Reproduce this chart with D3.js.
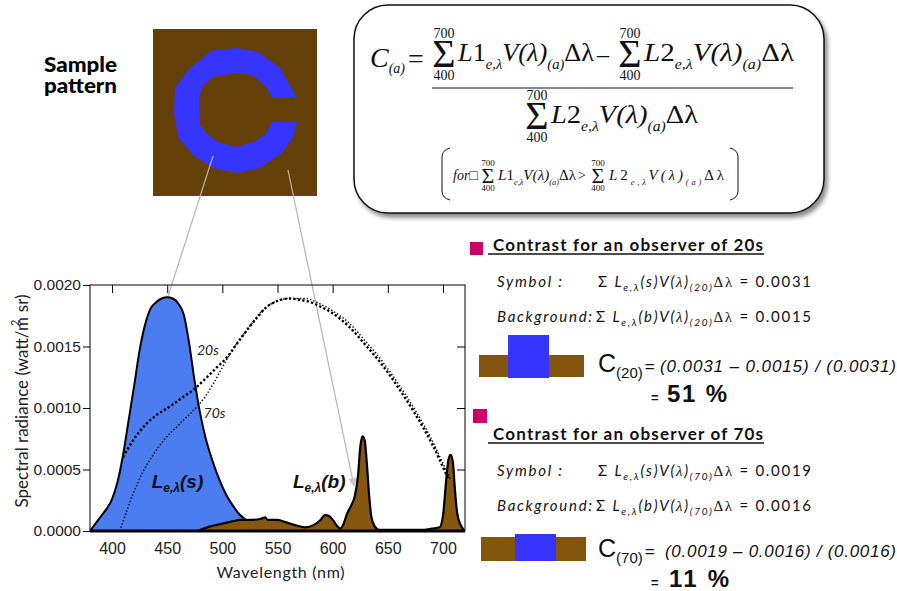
<!DOCTYPE html>
<html>
<head>
<meta charset="utf-8">
<script src="https://cdn.jsdelivr.net/npm/d3@7"></script>
<style>
body { margin: 0; background: #fff; }
svg { display: block; }
</style>
</head>
<body>
<div id="chart"></div>
<script>
// spectral radiance of the symbol (blue) and the background (brown)
var symbolWl = [380,385,390,395,400,405,410,415,420,425,430,435,440,445,450,455,460,465,470,475,480,485,490,495,500,505,510,515,520,525,530,535,540,545,550];
var symbolRad = [0,0.00006,0.00012,0.00018,0.00026,0.0004,0.00062,0.0009,0.00118,0.00147,0.00168,0.00181,0.00186,0.00189,0.0019,0.00189,0.00185,0.00176,0.00152,0.00121,0.00095,0.00075,0.0006,0.00047,0.00036,0.00027,0.0002,0.00014,0.0001,0.00007,0.00005,0.00003,0.00002,0.00001,0];

var backgroundWl = [478,483,490,495,500,505,510,516,525,535,539,541,550,558,565,575,583,589,593,597,601,604,607,610,613,617,620,623,625,627,629,631,633,635,638,642,683,690,697,700,703,705,707,709,711,713,716,718,720];
var backgroundRad = [0,0.00002,0.00004,0.00005,0.00006,0.00007,0.00008,0.00009,0.00009,0.0001,0.00011,0.00009,0.00009,0.00007,0.00005,0.00003,0.00005,0.00009,0.00013,0.00012,0.00008,0.00004,0.00002,0.00006,0.00014,0.00021,0.00028,0.00045,0.00068,0.00077,0.00074,0.00055,0.0003,0.00012,0.00004,0.00001,0.00001,0.00002,0.00003,0.00012,0.00042,0.00058,0.00062,0.00056,0.00032,0.00014,0.00005,0.00002,0];

// V(lambda) curves (scaled) for observers in their 20s and 70s
var v20Wl = [410,420,431,440,452,463,474,486,495,504,513,522,531,540,550,560,570,580,590,600,615,630,645,660,675,690,700,705];
var v20 = [0.0006,0.00075,0.00087,0.00094,0.00101,0.00108,0.00115,0.00125,0.00133,0.00141,0.00152,0.00163,0.00173,0.00182,0.00187,0.00189,0.00188,0.00186,0.00182,0.00177,0.00166,0.00151,0.00135,0.00116,0.00095,0.00071,0.00052,0.00042];
var v70Wl = [407,412,419,428,438,448,459,468,477,485,492,500,507,515,522,534,545,560,575,590,600,615,630,645,660,675,690,700,707];
var v70 = [0,0.00013,0.0003,0.00048,0.00063,0.00075,0.00085,0.00093,0.00101,0.0011,0.0012,0.00133,0.00144,0.00155,0.00163,0.00177,0.00185,0.00189,0.00189,0.00184,0.00179,0.00169,0.00154,0.00138,0.00119,0.00098,0.00074,0.00055,0.00042];

var xTicks = [400,450,500,550,600,650,700];
var yTicks = [0,0.0005,0.001,0.0015,0.002];

// contrast panel values
var ages = ["20", "70"];
var symbolSums = ["0.0031", "0.0019"];
var backgroundSums = ["0.0015", "0.0016"];
var results = ["51 %", "11 %"];

var svgWidth = 897, svgHeight = 591;
var margin = {top: 285, left: 90};
var width = 375, height = 246;

var svg = d3.select("#chart").append("svg")
  .attr("width", svgWidth)
  .attr("height", svgHeight);

var defs = svg.append("defs");
defs.append("marker")
  .attr("id", "arrow")
  .attr("viewBox", "0 0 10 10")
  .attr("refX", 9).attr("refY", 5)
  .attr("markerWidth", 9).attr("markerHeight", 9)
  .attr("markerUnits", "userSpaceOnUse")
  .attr("orient", "auto")
  .append("path").attr("d", "M0,0 L10,5 L0,10 z").attr("fill", "#c8c8c8");
var shadow = defs.append("filter").attr("id", "shadow")
  .attr("x", "-5%").attr("y", "-5%").attr("width", "115%").attr("height", "120%");
shadow.append("feDropShadow").attr("dx", 3).attr("dy", 4).attr("stdDeviation", 2)
  .attr("flood-color", "#000").attr("flood-opacity", 0.45);
defs.append("clipPath").attr("id", "plotclip")
  .append("rect").attr("width", width).attr("height", height);

var serif = "'Liberation Serif', 'Times New Roman', serif";
var sans = "'Liberation Sans', Arial, sans-serif";
var calibri = "Lato, 'Open Sans', sans-serif";

// ---------- sample pattern ----------
svg.append("text").attr("x", 44).attr("y", 72)
  .style("font-family", calibri).style("font-weight", "900").style("font-size", "21px")
  .attr("textLength", 73).attr("lengthAdjust", "spacingAndGlyphs").text("Sample");
svg.append("text").attr("x", 44).attr("y", 93)
  .style("font-family", calibri).style("font-weight", "900").style("font-size", "21px")
  .attr("textLength", 73).attr("lengthAdjust", "spacingAndGlyphs").text("pattern");

svg.append("rect").attr("x", 153).attr("y", 29).attr("width", 164).attr("height", 167)
  .attr("fill", "#664009");
// octagonal "C" outline (outer edge, then inner edge back)
var cShape = [[297,98],[280,68],[258,52],[237,48],[213,50],[190,68],[175,88],[174,113],[178,137],[193,155],[213,168],[237,173],[260,168],[282,153],[293,137],[297,122],
  [272,122],[265,135],[253,142],[237,147],[220,143],[208,135],[200,125],[199,100],[202,87],[213,77],[237,73],[253,75],[267,88],[272,98]];
svg.append("path").datum(cShape).attr("d", d3.line().curve(d3.curveLinearClosed))
  .attr("fill", "#3535ff");

// ---------- formula box ----------
svg.append("rect").attr("x", 354).attr("y", 5).attr("width", 470).attr("height", 208)
  .attr("rx", 34).attr("fill", "#fff").attr("stroke", "#111").attr("stroke-width", 1.5)
  .attr("filter", "url(#shadow)");

var fg = svg.append("g").style("font-family", serif).attr("fill", "#111");

function addSum(cx, base, size, limSize, gap) {
  fg.append("text").attr("x", cx).attr("y", base).attr("text-anchor", "middle")
    .style("font-size", size + "px").text("Σ");
  fg.append("text").attr("x", cx).attr("y", base - size * 0.66 - gap).attr("text-anchor", "middle")
    .style("font-size", limSize + "px").text("700");
  fg.append("text").attr("x", cx).attr("y", base + limSize * 0.72 + gap).attr("text-anchor", "middle")
    .style("font-size", limSize + "px").text("400");
}

function addTerm(x, base, size, num, len, adjust) {
  var t = fg.append("text").attr("x", x).attr("y", base)
    .style("font-size", size + "px").style("font-style", "italic")
    .attr("textLength", len).attr("lengthAdjust", adjust);
  var sub = size * 0.55, dy = size * 0.3;
  t.append("tspan").text("L");
  t.append("tspan").style("font-style", "normal").text(num);
  t.append("tspan").attr("dy", dy).style("font-size", sub + "px").text("e,λ");
  t.append("tspan").attr("dy", -dy).text("V(λ)");
  t.append("tspan").attr("dy", dy).style("font-size", sub + "px").text("(a)");
  t.append("tspan").attr("dy", -dy).style("font-style", "normal").text("Δλ");
}

// C(a) =
var ca = fg.append("text").attr("x", 370).attr("y", 67).style("font-size", "28px").style("font-style", "italic");
ca.append("tspan").text("C");
ca.append("tspan").attr("dy", 6).style("font-size", "14px").text("(a)");
fg.append("text").attr("x", 408).attr("y", 68).style("font-size", "28px").text("=");

// numerator
addSum(444, 67, 40, 14, 3);
addTerm(458, 61, 25, "1", 136, "spacingAndGlyphs");
fg.append("text").attr("x", 597).attr("y", 62).style("font-size", "24px").text("–");
addSum(630, 67, 40, 14, 3);
addTerm(644, 61, 25, "2", 150, "spacingAndGlyphs");
fg.append("line").attr("x1", 432).attr("x2", 793).attr("y1", 88).attr("y2", 88)
  .attr("stroke", "#111").attr("stroke-width", 1);

// denominator
addSum(537, 129, 40, 14, 3);
addTerm(551, 123, 25, "2", 147, "spacingAndGlyphs");

// condition in brackets
fg.append("path").attr("d", "M450,148 Q442,150 442,157 L442,191 Q442,198 450,200")
  .attr("fill", "none").attr("stroke", "#111").attr("stroke-width", 1);
fg.append("path").attr("d", "M730,148 Q738,150 738,157 L738,191 Q738,198 730,200")
  .attr("fill", "none").attr("stroke", "#111").attr("stroke-width", 1);
fg.append("text").attr("x", 453).attr("y", 180).style("font-size", "14px").style("font-style", "italic").text("for□");
addSum(488, 183, 22, 9, 2);
addTerm(498, 180, 15, "1", 78, "spacingAndGlyphs");
fg.append("text").attr("x", 578).attr("y", 180).style("font-size", "14px").text(">");
addSum(598, 183, 22, 9, 2);
addTerm(609, 180, 15, "2", 115, "spacing");

// ---------- connector arrows ----------
svg.append("line").attr("x1", 213).attr("y1", 156).attr("x2", 164).attr("y2", 309)
  .attr("stroke", "#b4b4b4").attr("stroke-width", 1.2).attr("marker-end", "url(#arrow)");
svg.append("line").attr("x1", 288).attr("y1", 170).attr("x2", 354).attr("y2", 486)
  .attr("stroke", "#b4b4b4").attr("stroke-width", 1.2).attr("marker-end", "url(#arrow)");

// ---------- spectral chart ----------
var chartGroup = svg.append("g")
  .attr("transform", "translate(" + margin.left + "," + margin.top + ")");

var xScale = d3.scaleLinear().domain([380, 720]).range([0, width]);
var yScale = d3.scaleLinear().domain([0, 0.002]).range([height, 0]);

var area = d3.area()
  .x(d => xScale(d[0])).y0(yScale(0)).y1(d => yScale(d[1]))
  .curve(d3.curveMonotoneX);
var line = d3.line()
  .x(d => xScale(d[0])).y(d => yScale(d[1]))
  .curve(d3.curveMonotoneX);

var plot = chartGroup.append("g").attr("clip-path", "url(#plotclip)");

var symbolData = d3.zip(symbolWl, symbolRad);
var backgroundData = d3.zip(backgroundWl, backgroundRad);

plot.append("path").datum(symbolData).attr("d", area).attr("fill", "#4b7cf0");
plot.append("path").datum(symbolData).attr("d", line)
  .attr("fill", "none").attr("stroke", "#000").attr("stroke-width", 2);
plot.append("path").datum(backgroundData).attr("d", area).attr("fill", "#86570f");
plot.append("path").datum(backgroundData).attr("d", line)
  .attr("fill", "none").attr("stroke", "#000").attr("stroke-width", 2.2);

plot.append("path").datum(d3.zip(v20Wl, v20)).attr("d", line)
  .attr("fill", "none").attr("stroke", "#000").attr("stroke-width", 2.4)
  .attr("stroke-dasharray", "2.3 2.2");
plot.append("path").datum(d3.zip(v70Wl, v70)).attr("d", line)
  .attr("fill", "none").attr("stroke", "#000").attr("stroke-width", 1.4)
  .attr("stroke-dasharray", "1.4 2");

// axes
var leftAxis = d3.axisLeft(yScale).tickValues(yTicks).tickFormat(d3.format(".4f"))
  .tickSize(7).tickPadding(2).tickSizeOuter(0);
var bottomAxis = d3.axisBottom(xScale).tickValues(xTicks).tickSize(0).tickPadding(12);
var topAxis = d3.axisTop(xScale).tickValues(xTicks).tickSize(-8).tickFormat("");
var rightAxis = d3.axisRight(yScale).tickValues([0.0005, 0.001, 0.0015]).tickSize(-8).tickFormat("");

function styleAxis(g) {
  g.select(".domain").remove();
  g.selectAll("text").style("font-family", sans).style("font-size", "15.5px").attr("fill", "#222");
  g.selectAll("line").attr("stroke", "#000");
}
chartGroup.append("g").call(leftAxis).call(styleAxis);
chartGroup.append("g").attr("transform", "translate(0," + height + ")").call(bottomAxis).call(styleAxis)
  .selectAll("text").style("font-size", "16px");
chartGroup.append("g").call(topAxis).call(styleAxis);
chartGroup.append("g").attr("transform", "translate(" + width + ",0)").call(rightAxis).call(styleAxis);

chartGroup.append("rect").attr("width", width).attr("height", height)
  .attr("fill", "none").attr("stroke", "#000").attr("stroke-width", 1);
chartGroup.append("line").attr("x1", 0).attr("x2", width).attr("y1", height).attr("y2", height)
  .attr("stroke", "#000").attr("stroke-width", 3);

// axis titles
chartGroup.append("text")
  .attr("x", xScale(550) + 3).attr("y", height + 47)
  .attr("text-anchor", "middle")
  .style("font-family", calibri).style("font-size", "16px").attr("fill", "#222")
  .attr("textLength", 128)
  .text("Wavelength (nm)");

var yLabel = svg.append("text")
  .attr("transform", "translate(28,401) rotate(-90)")
  .attr("text-anchor", "middle")
  .style("font-family", calibri).style("font-size", "17px").attr("fill", "#222");
yLabel.append("tspan").text("Spectral radiance  (watt/m");
yLabel.append("tspan").attr("dx", -9).attr("dy", -9).style("font-size", "11px").text("2");
yLabel.append("tspan").attr("dx", 3).attr("dy", 9).text(" sr)");

// curve labels
function curveLabel(xv, yv, letter) {
  var t = chartGroup.append("text").attr("x", xScale(xv)).attr("y", yScale(yv))
    .style("font-family", sans).style("font-weight", "bold").style("font-style", "italic")
    .style("font-size", "19px").attr("fill", "#111");
  t.append("tspan").text("L");
  t.append("tspan").attr("dy", 4).style("font-size", "12px").text("e,λ");
  t.append("tspan").attr("dy", -4).text("(" + letter + ")");
}
curveLabel(436, 0.00035, "s");
curveLabel(564, 0.00035, "b");

chartGroup.append("text").attr("x", xScale(477)).attr("y", yScale(0.00143))
  .style("font-family", calibri).style("font-style", "italic").style("font-size", "14px")
  .attr("fill", "#222").text(ages[0] + "s");
chartGroup.append("text").attr("x", xScale(483)).attr("y", yScale(0.00092))
  .style("font-family", calibri).style("font-style", "italic").style("font-size", "14px")
  .attr("fill", "#222").text(ages[1] + "s");

// ---------- contrast panels ----------
var panelTop = [0, 189];
var pinkPos = [[470, 242, 13], [473, 409, 14]];
var barPos = [[479, 355, 105, 22, 508, 335, 41, 43], [481, 537, 105, 24, 515, 534, 41, 27]];

ages.forEach(function(age, i) {
  var off = panelTop[i];
  var p = svg.append("g");
  p.append("rect").attr("x", pinkPos[i][0]).attr("y", pinkPos[i][1])
    .attr("width", pinkPos[i][2]).attr("height", pinkPos[i][2]).attr("fill", "#cc0066");

  p.append("text").attr("x", 493).attr("y", 251 + off)
    .style("font-family", calibri).style("font-weight", "bold").style("font-size", "17px")
    .attr("fill", "#111").attr("textLength", 270)
    .text("Contrast for an observer of " + age + "s");
  p.append("line").attr("x1", 488).attr("x2", 764).attr("y1", 254 + off).attr("y2", 254 + off)
    .attr("stroke", "#111").attr("stroke-width", 1.3);

  var rows = [["Symbol :", "s", symbolSums[i], 287, 65, 598, 213],
              ["Background:", "b", backgroundSums[i], 322, 95, 596, 215]];
  rows.forEach(function(r) {
    var by = r[3] + off;
    p.append("text").attr("x", 497).attr("y", by)
      .style("font-family", calibri).style("font-style", "italic").style("font-size", "15px")
      .attr("fill", "#111").attr("textLength", r[4]).text(r[0]);
    var t = p.append("text").attr("x", r[5]).attr("y", by)
      .style("font-family", calibri).style("font-size", "15px").attr("fill", "#111")
      .attr("textLength", r[6]).attr("lengthAdjust", "spacing");
    t.append("tspan").text("Σ ");
    t.append("tspan").style("font-style", "italic").text("L");
    t.append("tspan").attr("dy", 4).style("font-style", "italic").style("font-size", "10px").text("e,λ");
    t.append("tspan").attr("dy", -4).style("font-style", "italic").text("(" + r[1] + ")V(");
    t.append("tspan").style("font-family", serif).style("font-style", "italic").text("λ");
    t.append("tspan").style("font-style", "italic").text(")");
    t.append("tspan").attr("dy", 4).style("font-style", "italic").style("font-size", "10px").text("(" + age + ")");
    t.append("tspan").attr("dy", -4).style("font-family", serif).text("Δλ");
    t.append("tspan").text(" = " + r[2]);
  });

  var b = barPos[i];
  p.append("rect").attr("x", b[0]).attr("y", b[1]).attr("width", b[2]).attr("height", b[3]).attr("fill", "#83540c");
  p.append("rect").attr("x", b[4]).attr("y", b[5]).attr("width", b[6]).attr("height", b[7]).attr("fill", "#3535ff");

  var cy = [372, 557][i];
  var c = p.append("text").attr("x", 598).attr("y", cy)
    .style("font-family", sans).attr("fill", "#111");
  c.append("tspan").style("font-size", "25px").text("C");
  c.append("tspan").attr("dy", 6).style("font-size", "15px").text("(" + age + ")");
  c.append("tspan").attr("dy", -6).attr("dx", 2).style("font-size", "17px").text("=");
  var denom = i === 0 ? symbolSums[i] : backgroundSums[i];
  p.append("text").attr("x", [660, 665][i]).attr("y", cy)
    .style("font-family", sans).style("font-style", "italic").style("font-size", "17px")
    .attr("fill", "#111").attr("textLength", [236, 231][i])
    .text("(" + symbolSums[i] + " – " + backgroundSums[i] + ") / (" + denom + ")");

  var ry = [402, 587][i];
  p.append("text").attr("x", 651).attr("y", ry)
    .style("font-family", sans).style("font-weight", "bold").style("font-size", "13px")
    .attr("fill", "#111").text("=");
  p.append("text").attr("x", [667, 669][i]).attr("y", ry)
    .style("font-family", sans).style("font-weight", "bold").style("font-size", "24px")
    .attr("fill", "#111").attr("textLength", 60).text(results[i]);
});
</script>
</body>
</html>
